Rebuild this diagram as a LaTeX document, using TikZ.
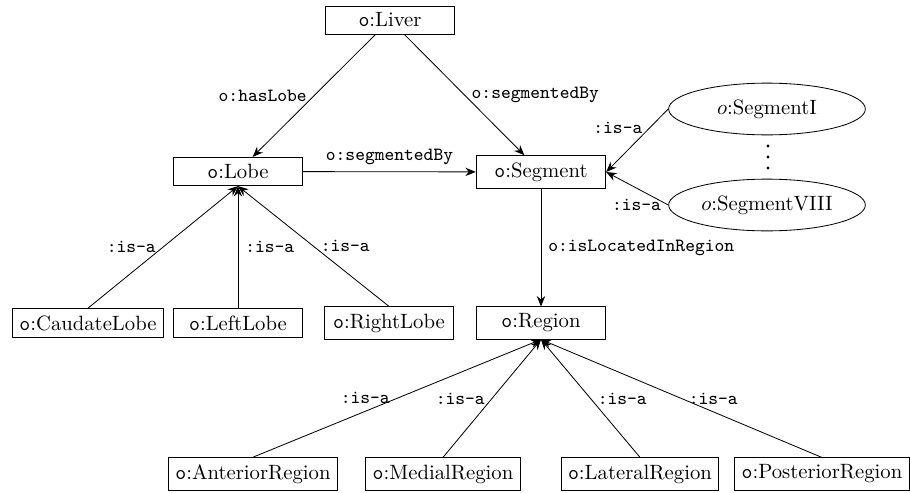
\documentclass[tikz,border=0pt]{standalone}
\usepackage{amsmath}
\usetikzlibrary{arrows.meta,shapes.geometric}

\newcommand{\ocls}[1]{\texttt{o}:#1}

\tikzset{
  cls/.style={draw, rectangle, minimum width=2.2cm, inner sep=3.33pt},
  inst/.style={draw, ellipse, minimum width=95pt, minimum height=25pt, inner sep=1pt},
  lbl/.style={font=\small\ttfamily},
}

\begin{document}
\begin{tikzpicture}[x=0.483pt,y=-0.483pt,>={Stealth[length=5pt,width=4pt]}]
\useasboundingbox (0,0) rectangle (910,492);
\node[cls] (liver) at (390,20) {\ocls{Liver}};
\node[cls] (lobe) at (238,171.5) {\ocls{Lobe}};
\node[cls] (segment) at (541,172) {\ocls{Segment}};
\node[cls] (region) at (541,323) {\ocls{Region}};
\node[inst] (seg1) at (767,109) {$o$:SegmentI};
\node[inst] (seg8) at (767,205) {$o$:SegmentVIII};
\foreach \y in {146,157,168}
    {
    \fill (768,\y) circle (0.8pt);
    }
\node[cls] (caudate) at (88,323) {\ocls{CaudateLobe}};
\node[cls] (leftlobe) at (238,323) {\ocls{LeftLobe}};
\node[cls] (rightlobe) at (389,323) {\ocls{RightLobe}};
\node[cls] (anterior) at (253,474) {\ocls{AnteriorRegion}};
\node[cls] (medial) at (443,474) {\ocls{MedialRegion}};
\node[cls] (lateral) at (640,474) {\ocls{LateralRegion}};
\node[cls] (posterior) at (822,474) {\ocls{PosteriorRegion}};

\draw[->] (liver) -- node[lbl,left] {o:hasLobe} (lobe);
\draw[->] (liver) -- node[lbl,right] {o:segmentedBy} (segment);
\draw[->] (lobe) -- node[lbl,above] {o:segmentedBy} (segment);
\draw[->] (segment) -- node[lbl,right] {o:isLocatedInRegion} (region);
\draw[->] (seg1.west) -- node[lbl,pos=0.3,left] {:is-a} (segment.east);
\draw[->] (seg8.west) -- node[lbl,pos=0,left] {:is-a} (segment.east);
\foreach \c/\p in {caudate/left,leftlobe/right,rightlobe/right}
  \draw[->] (\c.north) -- node[lbl,\p] {:is-a} (lobe.south);
\foreach \c/\p in {anterior/left,medial/left,lateral/right,posterior/right}
  \draw[->] (\c.north) -- node[lbl,\p] {:is-a} (region.south);
\end{tikzpicture}
\end{document}
